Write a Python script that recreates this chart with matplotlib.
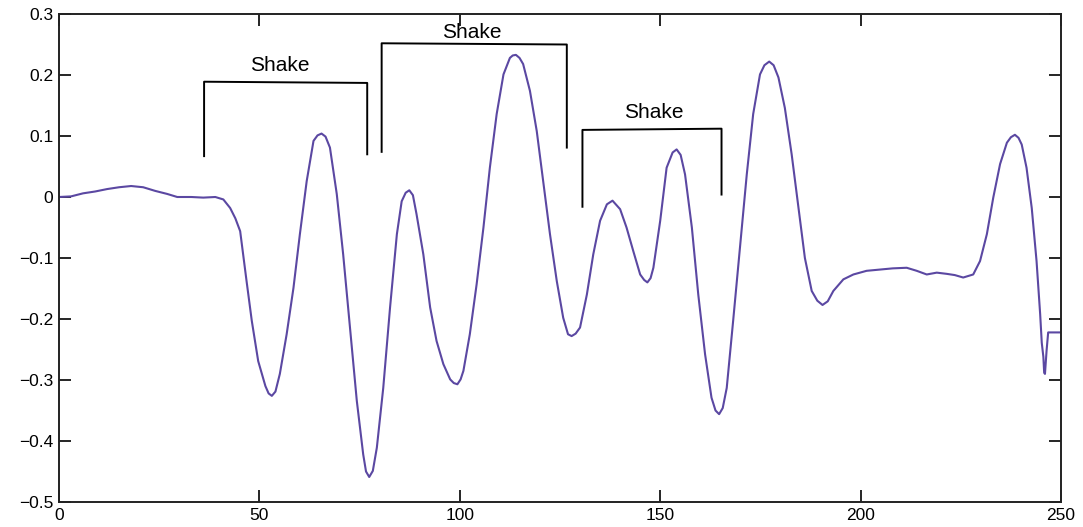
import matplotlib
matplotlib.use("Agg")
import matplotlib.pyplot as plt

# signal (x, y)
xs = [0, 3, 6, 9, 12, 15, 18, 21, 24, 27, 29.5, 33, 36, 39, 41, 42.7, 44, 45.2,
      46.8, 48.1, 49.7, 51.5, 52.3, 53.1, 54.0, 55.1, 56.8, 58.5, 60.1, 61.8,
      63.5, 64.5, 65.5, 66.5,
      67.6, 69.3, 70.9, 72.6, 74.3, 75.9, 76.6, 77.4, 78.3, 79.3, 80.9, 82.6,
      84.3, 85.5, 86.5,
      87.4, 88.3, 89.2, 90.9, 92.6, 94.2, 95.9, 97.6, 98.5, 99.4, 100.2, 100.9,
      102.5, 104.2,
      105.9, 107.5, 109.2, 110.9, 112.5, 113.2, 114, 114.9, 115.8, 117.5,
      119.2, 120.8,
      122.5, 124.2, 125.8, 127.0, 127.9, 128.9, 130, 131.7, 133.3, 135, 136.7,
      138.1, 140,
      141.6, 143.3, 145, 146.0, 146.8, 147.6, 148.3, 150, 151.6, 153.1, 154.1,
      155.1, 156.2, 157.9, 159.5,
      161.2, 162.8, 163.8, 164.7, 165.6, 166.6, 168.2, 169.9, 171.6, 173.2,
      174.9, 176.0, 177.2, 178.3,
      179.5, 181.1, 182.8, 184.5, 186.1, 187.8, 189.2, 190.5, 191.8, 193.2,
      195.7, 198.2,
      201.5, 204.8, 208, 211.5, 214, 216.5, 219, 221.5, 223.5, 225.6, 228.1,
      229.8, 231.5, 233.1, 234.8, 236.5, 237.5, 238.5, 239.4, 240.2, 241.4,
      242.7, 243.9,
      244.8, 245.2, 245.6, 245.8, 246.0, 246.4, 246.8, 248, 249.8]
ys = [0.0, 0.001, 0.006, 0.009, 0.013, 0.016, 0.018, 0.016, 0.010, 0.005,
      0.0, 0.0, -0.001, 0.0, -0.004, -0.018, -0.035, -0.056,
      -0.138, -0.203, -0.269, -0.31, -0.322, -0.326, -0.319, -0.29, -0.225,
      -0.149, -0.061, 0.026,
      0.092, 0.101, 0.104, 0.099,
      0.081, 0.005, -0.094, -0.214, -0.334, -0.422, -0.45, -0.459, -0.449,
      -0.411, -0.313, -0.181,
      -0.061, -0.007, 0.007,
      0.011, 0.003, -0.028, -0.094, -0.181, -0.236, -0.274, -0.299, -0.305,
      -0.307, -0.299, -0.285,
      -0.225, -0.143,
      -0.05, 0.048, 0.136, 0.201, 0.228, 0.232, 0.233, 0.228, 0.218, 0.174,
      0.108, 0.026,
      -0.061, -0.138, -0.198, -0.225, -0.228, -0.224, -0.214, -0.16, -0.094,
      -0.039, -0.012,
      -0.006, -0.02,
      -0.05, -0.089, -0.127, -0.136, -0.14, -0.133, -0.116, -0.039, 0.048,
      0.073, 0.078,
      0.069, 0.037, -0.05, -0.16,
      -0.258, -0.329, -0.35, -0.356, -0.346, -0.313, -0.203, -0.083, 0.037,
      0.136,
      0.201, 0.216, 0.222, 0.216,
      0.196, 0.146, 0.07, -0.018, -0.1, -0.154, -0.170, -0.177, -0.171,
      -0.154, -0.135, -0.127,
      -0.121, -0.119, -0.117, -0.116, -0.121, -0.127, -0.124, -0.126, -0.128,
      -0.132, -0.127,
      -0.105, -0.061, -0.001, 0.054, 0.089, 0.098, 0.102, 0.097, 0.086,
      0.048, -0.018, -0.105,
      -0.192, -0.239, -0.262, -0.288, -0.29, -0.252, -0.222, -0.222, -0.222]

# "Shake" brackets: left x, right x, left foot, right foot, top (left, right)
br_x0 = [36.2, 80.5, 130.6]
br_x1 = [76.9, 126.7, 165.3]
br_foot0 = [0.067, 0.074, -0.016]
br_foot1 = [0.070, 0.081, 0.004]
br_top0 = [0.189, 0.252, 0.110]
br_top1 = [0.187, 0.250, 0.112]
lbl_x = [55.1, 103.1, 148.3]
lbl_y = [0.216, 0.269, 0.138]
lbl = ["Shake", "Shake", "Shake"]

xticks = [0, 50, 100, 150, 200, 250]
yticks = [-0.5, -0.4, -0.3, -0.2, -0.1, 0, 0.1, 0.2, 0.3]
ylabels = ["\u22120.5", "\u22120.4", "\u22120.3", "\u22120.2", "\u22120.1",
           "0", "0.1", "0.2", "0.3"]

plt.rcParams['font.family'] = ['Liberation Sans', 'DejaVu Sans']

fig = plt.figure(figsize=(10.83, 5.27), dpi=100)
ax = fig.add_axes([59 / 1083, 1 - 502 / 527, (1061 - 59) / 1083, (502 - 14) / 527])

ax.plot(xs, ys, color="#5b48a2", lw=1.5)

for i in range(3):
    ax.plot([br_x0[i], br_x0[i], br_x1[i], br_x1[i]],
            [br_foot0[i], br_top0[i], br_top1[i], br_foot1[i]],
            color="black", lw=1.4)
    ax.text(lbl_x[i], lbl_y[i], lbl[i], ha="center", va="center", fontsize=15)

ax.set_xlim(0, 250)
ax.set_ylim(-0.5, 0.3)
ax.set_xticks(xticks)
ax.set_xticklabels([str(t) for t in xticks])
ax.set_yticks(yticks)
ax.set_yticklabels(ylabels)
ax.tick_params(direction="in", length=8.5, width=1.2, top=True, right=True,
               labelsize=12.5, colors="black")
ax.tick_params(axis="x", pad=4)
ax.tick_params(axis="y", pad=4)
for s in ax.spines.values():
    s.set_linewidth(1.4)
    s.set_color("#222222")

fig.savefig("out.png", dpi=100)
